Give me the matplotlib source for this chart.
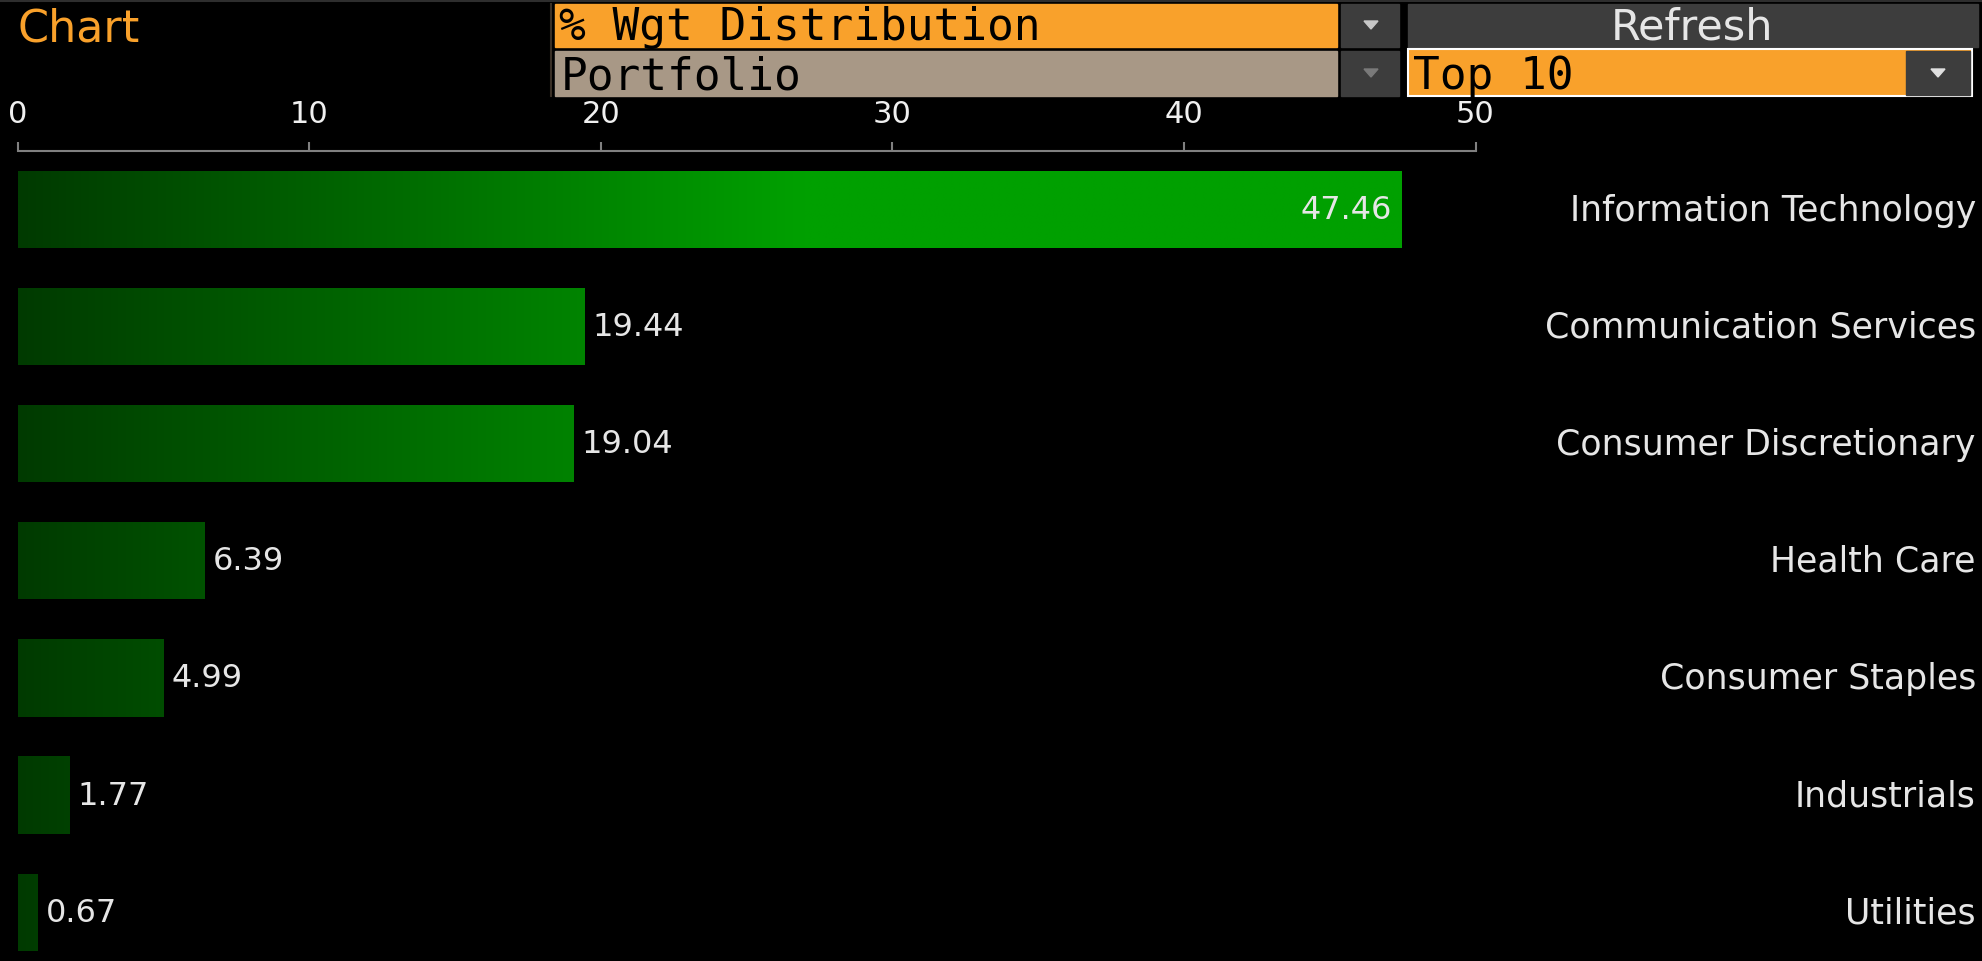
import numpy as np
import matplotlib
matplotlib.use("Agg")
import matplotlib.pyplot as plt
from matplotlib.patches import Rectangle, Polygon
from matplotlib.transforms import blended_transform_factory

sectors = ["Information Technology", "Communication Services", "Consumer Discretionary",
           "Health Care", "Consumer Staples", "Industrials", "Utilities"]
weights = [47.46, 19.44, 19.04, 6.39, 4.99, 1.77, 0.67]
ticks = [0, 10, 20, 30, 40, 50]

W, H = 1982, 962
ORANGE = "#f9a12b"
DARK = "#3d3d3d"
TXT = "#e6e6e6"


def green(x):
    # dark green at zero, brightening to a flat green further right
    g = np.minimum(58 + 3.8 * np.asarray(x), 160) / 255
    z = np.zeros_like(g)
    return np.stack([z, g, z], axis=-1)


fig = plt.figure(figsize=(W / 100, H / 100), dpi=100, facecolor="black")

# header widgets, in pixel coordinates
hdr = fig.add_axes([0, 0, 1, 1])
hdr.set_xlim(0, W)
hdr.set_ylim(H, 0)
hdr.axis("off")

hdr.plot([0, W], [2, 2], color="#2e2e2e", lw=1.5)
hdr.plot([551, 551], [5, 97], color="#3a3026", lw=1.5)

hdr.add_patch(Rectangle((555, 5), 782, 43, color=ORANGE))
hdr.add_patch(Rectangle((1341, 5), 58, 43, color=DARK))
hdr.add_patch(Rectangle((1408, 5), 570, 43, color=DARK))
hdr.add_patch(Rectangle((555, 52), 782, 45, color="#a89886"))
hdr.add_patch(Rectangle((1341, 52), 58, 45, color=DARK))
hdr.add_patch(Rectangle((1408, 50), 564, 47, facecolor=ORANGE, edgecolor="white", lw=1.5))
hdr.add_patch(Rectangle((1906, 52), 64, 44, color=DARK))

for cx, cy, col in [(1371, 26, "#c8c8c8"), (1371, 74, "#7a7a7a"), (1938, 74, "#e0e0e0")]:
    hdr.add_patch(Polygon([(cx - 7, cy - 4), (cx + 7, cy - 4), (cx, cy + 4)], closed=True, color=col))

hdr.text(18, 41, "Chart", color=ORANGE, fontsize=32, family="DejaVu Sans", va="baseline")
hdr.text(559, 40, "% Wgt Distribution", color="black", fontsize=32, family="DejaVu Sans Mono", va="baseline")
hdr.text(561, 89, "Portfolio", color="black", fontsize=32, family="DejaVu Sans Mono", va="baseline")
hdr.text(1692, 40, "Refresh", color=TXT, fontsize=31, family="DejaVu Sans", va="baseline", ha="center")
hdr.text(1413, 89, "Top 10", color="black", fontsize=32, family="DejaVu Sans Mono", va="baseline")

# bar chart
ax = fig.add_axes([17.7 / W, 0, (1475.5 - 17.7) / W, 1 - 152 / H])
ax.set_facecolor("none")
ax.set_xlim(0, 50)
ax.set_ylim(-0.5 + (H - 152) / 117.1, -0.5)

y = np.arange(len(sectors))
bars = ax.barh(y, weights, height=0.66, color=green(weights), edgecolor="none")
for bar, v, yi in zip(bars, weights, y):
    xs = np.linspace(0, v, 300)
    im = ax.imshow(green(xs)[None, :, :], extent=[0, v, yi + 0.33, yi - 0.33],
                   aspect="auto", interpolation="bilinear", zorder=2)
    im.set_clip_path(bar)
    if v >= 40:
        ax.annotate(f"{v:.2f}", (v, yi), xytext=(-7, 0), textcoords="offset points",
                    ha="right", va="center", color=TXT, fontsize=23, zorder=3)
    else:
        ax.annotate(f"{v:.2f}", (v, yi), xytext=(6, 0), textcoords="offset points",
                    ha="left", va="center", color=TXT, fontsize=23, zorder=3)

trans = blended_transform_factory(fig.transFigure, ax.transData)
for name, yi in zip(sectors, y):
    ax.text(1976 / W, yi, name, transform=trans, ha="right", va="center",
            color=TXT, fontsize=25)

ax.xaxis.tick_top()
ax.set_xticks(ticks)
ax.set_yticks([])
ax.tick_params(axis="x", colors="#808080", labelcolor="#f0f0f0", length=6.5, width=1.5,
               pad=10, labelsize=22)
for side in ["bottom", "left", "right"]:
    ax.spines[side].set_visible(False)
ax.spines["top"].set_color("#808080")
ax.spines["top"].set_linewidth(1.5)

fig.savefig("out.png", dpi=100, facecolor="black")
